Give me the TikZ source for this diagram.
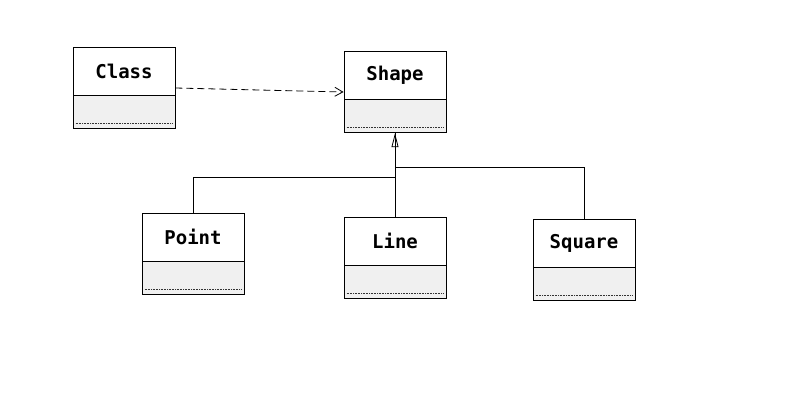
\documentclass[tikz,border=0pt]{standalone}
\usepackage{fontspec}
\setmonofont{DejaVu Sans Mono}
\usetikzlibrary{positioning,arrows.meta}
\definecolor{boxgray}{RGB}{240,240,240}

\begin{document}
\begin{tikzpicture}
  [
    x = 1pt, y = -1pt,
    line width = 0.8pt,
    classname/.style = {draw, fill = white, minimum width = 102pt,
        minimum height = 48pt, inner sep = 0pt,
        font = \ttfamily\bfseries\fontsize{19}{21}\selectfont},
    classbody/.style = {draw, fill = boxgray, minimum width = 102pt,
        minimum height = 33pt, inner sep = 0pt},
    depend/.style = {dash pattern = on 7pt off 4pt,
        -{Straight Barb[length = 8pt, width = 9pt]}},
    inherit/.style = {-{Triangle[open, length = 14pt, width = 7pt]}},
  ]

  \useasboundingbox (0,0) rectangle (798,402);

  % the five classes
  \foreach \n/\t/\x/\y in {class/Class/124/71, shape/Shape/395/75,
      point/Point/193/237, line/Line/395/241, square/Square/584/243}{
      \node [classname] (\n-name) at (\x,\y) {\t};
      \node [classbody, below = 0pt of \n-name] (\n-body) {};
      \draw [line width = 0.6pt, gray!40!black, dash pattern = on 1pt off 0.6pt]
        ([xshift = 3pt, yshift = 5.5pt]\n-body.south west)
        -- ([xshift = -3pt, yshift = 5.5pt]\n-body.south east);
    }

  % dependency
  \draw [depend] ([yshift = -17pt]class-name.east)
    -- ([yshift = -17pt]shape-name.west);

  % generalisation
  \draw (point-name.north) -- ++(0,-35) -| (shape-body.south);
  \draw (square-name.north) -- ++(0,-51) -| (shape-body.south);
  \draw [inherit] (line-name.north) -- (shape-body.south);

\end{tikzpicture}
\end{document}
